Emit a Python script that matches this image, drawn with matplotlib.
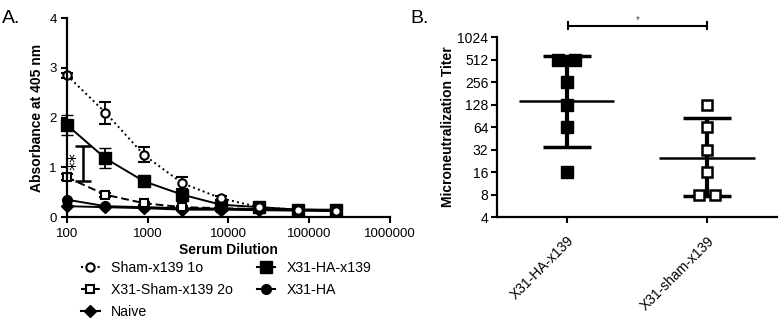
import numpy as np
import matplotlib
matplotlib.use("Agg")
import matplotlib.pyplot as plt
from matplotlib.ticker import FixedLocator, NullFormatter, LogLocator, NullLocator

plt.rcParams['font.family'] = ['Liberation Sans', 'DejaVu Sans']

# ---------------- Panel A data ----------------
dilution = [100, 300, 900, 2700, 8100, 24300, 72900, 218700]
sham_1o = [2.85, 2.10, 1.25, 0.68, 0.38, 0.20, 0.15, 0.12]
sham_1o_err = [0.05, 0.22, 0.15, 0.12, 0.04, 0.03, 0.02, 0.02]
ha_x139 = [1.85, 1.18, 0.72, 0.45, 0.25, 0.20, 0.15, 0.15]
ha_x139_err = [0.20, 0.20, 0.06, 0.05, 0.03, 0.03, 0.02, 0.02]
sham_2o = [0.80, 0.45, 0.28, 0.20, 0.18, 0.16, 0.15, 0.14]
sham_2o_err = [0.06, 0.04, 0.03, 0.03, 0.02, 0.02, 0.02, 0.02]
x31_ha = [0.35, 0.22, 0.20, 0.18, 0.17, 0.16, 0.15, 0.14]
naive = [0.22, 0.20, 0.18, 0.15, 0.15, 0.14, 0.13, 0.12]
x_ticks = [100, 1000, 10000, 100000, 1000000]
x_ticklabels = ["100", "1000", "10000", "100000", "1000000"]

# significance bar in A
sig_x = 158
sig_low, sig_high = 0.72, 1.43

# ---------------- Panel B data ----------------
groups = ["X31-HA-x139", "X31-sham-x139"]
ha_titers = [512, 512, 256, 128, 64, 16]
sham_titers = [128, 64, 32, 16, 8, 8]
group_mean = [145, 25]
group_low = [35, 7.6]
group_high = [580, 85]
b_yticks = [4, 8, 16, 32, 64, 128, 256, 512, 1024]

fig = plt.figure(figsize=(7.81, 3.28), dpi=100)

# ---------------- Panel A ----------------
axA = fig.add_axes([0.0858, 0.338, 0.413, 0.607])
axA.set_xscale('log')
axA.set_xlim(100, 1000000)
axA.set_ylim(0, 4)

kw = dict(color='black', capsize=4, elinewidth=1.3, capthick=1.3)
series = [
    (naive, None, '-', 'D', 6, 'black', 1.0),
    (x31_ha, None, '-', 'o', 7, 'black', 1.0),
    (sham_2o, sham_2o_err, '--', 's', 6, 'white', 1.5),
    (ha_x139, ha_x139_err, '-', 's', 8, 'black', 1.0),
    (sham_1o, sham_1o_err, ':', 'o', 6, 'white', 1.5),
]
for vals, err, ls, mk, ms, mfc, mew in series:
    lines = axA.errorbar(dilution, vals, yerr=err, fmt=ls, marker=mk, markersize=ms,
                         mfc=mfc, mew=mew, lw=1.4, **kw)
    lines[0].set_clip_on(False)
    if ls == '--':
        lines[0].set_dashes((4, 2))
    for c in lines[1]:
        c.set_clip_on(False)
    for c in lines[2]:
        c.set_clip_on(False)

# significance bar
axA.errorbar([sig_x], [(sig_low + sig_high) / 2], yerr=[(sig_high - sig_low) / 2],
             fmt='none', ecolor='black', elinewidth=1.8, capsize=6, capthick=1.8)
axA.text(132, (sig_low + sig_high) / 2 + 0.05, "**", rotation=90, ha='center', va='center',
         fontsize=13, family='DejaVu Sans')

for s in ['top', 'right']:
    axA.spines[s].set_visible(False)
for s in ['left', 'bottom']:
    axA.spines[s].set_linewidth(1.6)
axA.xaxis.set_major_locator(FixedLocator(x_ticks))
axA.set_xticklabels(x_ticklabels)
axA.xaxis.set_minor_locator(NullLocator())
axA.set_yticks([0, 1, 2, 3, 4])
axA.tick_params(axis='both', labelsize=9.5, width=1.5, length=4, color='black')
axA.tick_params(axis='x', direction='out', pad=4)
axA.set_xlabel("Serum Dilution", fontsize=10, fontweight='bold', labelpad=2)
axA.set_ylabel("Absorbance at 405 nm", fontsize=10, fontweight='bold', labelpad=4)

handles = [
    plt.Line2D([], [], ls=':', marker='o', color='black', mfc='white', mew=1.5, ms=6),
    plt.Line2D([], [], ls='--', marker='s', color='black', mfc='white', mew=1.5, ms=6),
    plt.Line2D([], [], ls='-', marker='D', color='black', ms=6),
    plt.Line2D([], [], ls='-', marker='s', color='black', ms=8),
    plt.Line2D([], [], ls='-', marker='o', color='black', ms=7),
]
labels = ["Sham-x139 1o", "X31-Sham-x139 2o", "Naive", "X31-HA-x139", "X31-HA"]
fig.legend(handles, labels, loc='upper left', bbox_to_anchor=(0.095, 0.225), ncol=2,
           frameon=False, fontsize=10.2, handlelength=1.3, handletextpad=0.8,
           columnspacing=1.7, labelspacing=0.55, borderpad=0)

fig.text(0.003, 0.97, "A.", fontsize=14, va='top', ha='left')
fig.text(0.526, 0.97, "B.", fontsize=14, va='top', ha='left')

# ---------------- Panel B ----------------
axB = fig.add_axes([0.636, 0.338, 0.359, 0.549])
axB.set_yscale('log', base=2)
axB.set_ylim(4, 1024)
axB.set_xlim(-0.5, 1.5)
xpos = [0, 1]

ha_x = [-0.06, 0.06, 0, 0, 0, 0]
sham_x = [0, 0, 0, 0, -0.06, 0.06]
axB.plot([xpos[0] + d for d in ha_x], ha_titers, 's', color='black', ms=8, zorder=3)
axB.plot([xpos[1] + d for d in sham_x], sham_titers, 's', color='black', mfc='white',
         mew=1.8, ms=7.5, zorder=3)

for i in range(2):
    axB.hlines(group_mean[i], xpos[i] - 0.34, xpos[i] + 0.34, color='black', lw=1.8)
    axB.errorbar([xpos[i]], [group_mean[i]],
                 yerr=[[group_mean[i] - group_low[i]], [group_high[i] - group_mean[i]]],
                 fmt='none', ecolor='black', elinewidth=3, capsize=17, capthick=2.5, zorder=2)

# significance bracket
axB.plot([0.01, 1.0], [1450, 1450], color='black', lw=1.5, clip_on=False)
axB.plot([0.01, 0.01], [1300, 1620], color='black', lw=1.5, clip_on=False)
axB.plot([1.0, 1.0], [1300, 1620], color='black', lw=1.5, clip_on=False)
axB.text(0.505, 1750, "*", ha='center', va='center', fontsize=7, color='#444444')

for s in ['top', 'right']:
    axB.spines[s].set_visible(False)
for s in ['left', 'bottom']:
    axB.spines[s].set_linewidth(1.6)
axB.yaxis.set_major_locator(FixedLocator(b_yticks))
axB.set_yticklabels([str(v) for v in b_yticks])
axB.yaxis.set_minor_locator(LogLocator(base=2, subs=np.arange(1.125, 2.0, 0.125)))
axB.yaxis.set_minor_formatter(NullFormatter())
axB.set_xticks(xpos)
axB.set_xticklabels(groups, rotation=45, ha='right', rotation_mode='anchor')
axB.tick_params(axis='both', labelsize=10, width=1.5, length=4, color='black', pad=2)
axB.tick_params(axis='y', which='minor', length=2, width=1)
axB.tick_params(axis='x', pad=8)
axB.set_ylabel("Microneutralization Titer", fontsize=10, fontweight='bold', labelpad=2)

fig.savefig("out.png", dpi=100)
